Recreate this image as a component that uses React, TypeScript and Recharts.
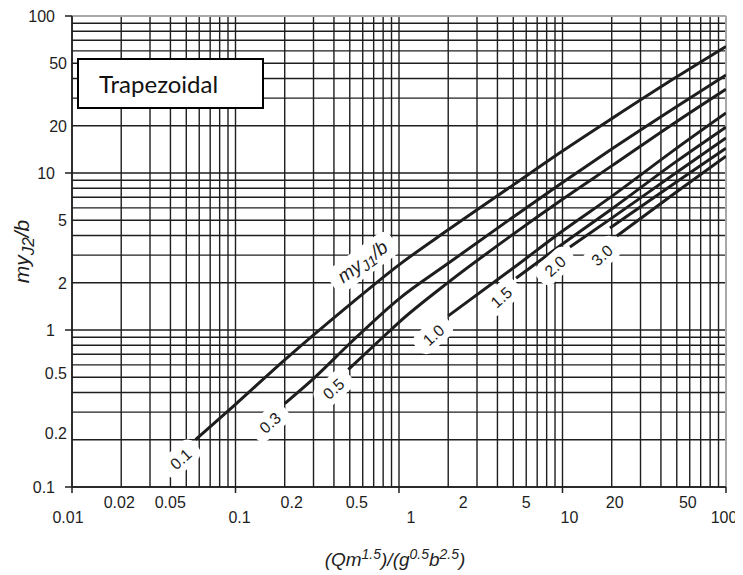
import React from "react";
import {
  LineChart,
  Line,
  XAxis,
  YAxis,
  CartesianGrid,
  ReferenceDot,
  ReferenceLine,
} from "recharts";

// log grid: every 1..9 step in each decade
const steps = [1, 2, 3, 4, 5, 6, 7, 8, 9];
const decadesX = [0.01, 0.1, 1, 10];
const decadesY = [0.1, 1, 10];
const gridX = [...decadesX.flatMap((d) => steps.map((k) => +(k * d).toPrecision(3))), 100];
const gridY = [...decadesY.flatMap((d) => steps.map((k) => +(k * d).toPrecision(3))), 100];

const xLabels = [0.01, 0.02, 0.05, 0.1, 0.2, 0.5, 1, 2, 5, 10, 20, 50, 100];
const xMajors = [0.01, 0.1, 1, 10, 100];
const yLabels = [0.1, 0.2, 0.5, 1, 2, 5, 10, 20, 50, 100];
const yMajors = [0.1, 1, 10, 100];

// curves, one per my_J1/b value (x = Qm^1.5/(g^0.5 b^2.5), y = my_J2/b)
const x01 = [0.057, 0.1, 0.2, 0.5, 1, 2, 5, 10, 20, 50, 100];
const y01 = [0.2, 0.336, 0.645, 1.45, 2.6, 4.35, 8.4, 13.8, 22.2, 41, 64];
const x03 = [0.2, 0.3, 0.5, 1, 2, 5, 10, 20, 50, 100];
const y03 = [0.34, 0.49, 0.82, 1.58, 2.66, 5.25, 8.7, 14.2, 26.5, 42.1];
const x05 = [0.49, 0.77, 1, 2, 5, 10, 20, 50, 100];
const y05 = [0.56, 0.87, 1.12, 2.01, 4.08, 6.8, 11.1, 21.3, 34.2];
const x10 = [2, 5, 10, 20, 50, 100];
const y10 = [1.23, 2.48, 4.27, 7.1, 14.4, 24.1];
const x15 = [5.2, 10, 20, 50, 100];
const y15 = [2.14, 3.53, 5.9, 11.9, 19.6];
const x20 = [11.1, 20, 50, 100];
const y20 = [3.38, 5.16, 10.1, 16.7];
const x25 = [19.5, 50, 100];
const y25 = [4.47, 8.8, 14.4];
const x30 = [21.5, 50, 100];
const y30 = [3.97, 7.6, 12.8];

const curves = [
  { tag: "0.1", xs: x01, ys: y01 },
  { tag: "0.3", xs: x03, ys: y03 },
  { tag: "0.5", xs: x05, ys: y05 },
  { tag: "1.0", xs: x10, ys: y10 },
  { tag: "1.5", xs: x15, ys: y15 },
  { tag: "2.0", xs: x20, ys: y20 },
  { tag: "", xs: x25, ys: y25 },
  { tag: "3.0", xs: x30, ys: y30 },
].map((c) => ({ ...c, data: c.xs.map((x, i) => ({ x, y: c.ys[i] })) }));

// small nudges so tick text sits where the scanned original has it
const xShift: Record<string, number> = {
  "0.01": -4, "0.02": -2, "0.05": -16, "0.1": 4, "0.2": 7, "0.5": 7,
  "1": 12, "2": 15, "5": 13, "10": 7, "20": 3, "50": 11, "100": -2,
};
const yShift: Record<string, number> = { "0.2": -7, "0.5": -4 };

const FONT = "'Liberation Sans', Arial, sans-serif";
const INK = "#1e1e1e";

const XTick = (props: any) => {
  const { x, y, payload } = props;
  const v = payload.value;
  const major = xMajors.includes(v);
  const show = xLabels.includes(v);
  return (
    <g>
      {major && <line x1={x} x2={x} y1={y} y2={y + 6} stroke={INK} strokeWidth={1.5} />}
      {show && (
        <text
          x={x + (xShift[String(v)] || 0)}
          y={major ? y + 36 : y + 21}
          textAnchor="middle"
          fontSize={16}
          fontFamily={FONT}
          fill={INK}
        >
          {String(v)}
        </text>
      )}
    </g>
  );
};

const YTick = (props: any) => {
  const { x, y, payload } = props;
  const v = payload.value;
  const major = yMajors.includes(v);
  const show = yLabels.includes(v);
  return (
    <g>
      {major && <line x1={x - 7} x2={x} y1={y} y2={y} stroke={INK} strokeWidth={1.5} />}
      {show && (
        <text
          x={major ? x - 17 : x - 5}
          y={y + 6 + (yShift[String(v)] || 0)}
          textAnchor="end"
          fontSize={16}
          fontFamily={FONT}
          fill={INK}
        >
          {String(v)}
        </text>
      )}
    </g>
  );
};

const XTitle = (props: any) => {
  const vb = props.viewBox || {};
  return (
    <text
      x={vb.x + vb.width / 2 - 4}
      y={vb.y + 79}
      textAnchor="middle"
      fontSize={19}
      fontFamily={FONT}
      fontStyle="italic"
      fill={INK}
    >
      (Qm<tspan dy={-7} fontSize={14}>1.5</tspan>
      <tspan dy={7}>)/(g</tspan>
      <tspan dy={-7} fontSize={14}>0.5</tspan>
      <tspan dy={7}>b</tspan>
      <tspan dy={-7} fontSize={14}>2.5</tspan>
      <tspan dy={7}>)</tspan>
    </text>
  );
};

const YTitle = (props: any) => {
  const vb = props.viewBox || {};
  const cx = 21;
  const cy = vb.y + vb.height / 2;
  return (
    <text
      transform={`translate(${cx},${cy}) rotate(-90)`}
      textAnchor="middle"
      fontSize={21}
      fontFamily={FONT}
      fontStyle="italic"
      fill={INK}
    >
      my<tspan dy={5} fontSize={17}>J2</tspan>
      <tspan dy={-5}>/b</tspan>
    </text>
  );
};

const CurveTag = (p: any) => {
  const { cx, cy, text } = p;
  if (!text) return <g />;
  return (
    <g transform={`translate(${cx - 15},${cy + 19}) rotate(-42)`}>
      <rect x={-21} y={-12} width={42} height={24} rx={9} fill="#fff" />
      <text textAnchor="middle" dy={6} fontSize={16} fontFamily={FONT} fill={INK}>
        {text}
      </text>
    </g>
  );
};

const NameTag = (p: any) => {
  const { cx, cy } = p;
  return (
    <g transform={`translate(${cx},${cy - 33}) rotate(-36)`}>
      <rect x={-38} y={-14} width={76} height={28} rx={9} fill="#fff" />
      <text textAnchor="middle" dy={6} fontSize={19} fontFamily={FONT} fontStyle="italic" fill={INK}>
        my<tspan dy={4} fontSize={15}>J1</tspan>
        <tspan dy={-4}>/b</tspan>
      </text>
    </g>
  );
};

export default function App() {
  return (
    <div style={{ position: "relative", width: 735, height: 567 }}>
      <LineChart width={735} height={567} margin={{ top: 8, right: 17, bottom: 8, left: 0 }}>
        <CartesianGrid stroke={INK} strokeWidth={1.4} horizontalValues={gridY} verticalValues={gridX} />
        <XAxis
          dataKey="x"
          type="number"
          scale="log"
          domain={[0.01, 100]}
          allowDataOverflow
          ticks={gridX}
          interval={0}
          tick={<XTick />}
          tickLine={false}
          tickSize={0}
          tickMargin={0}
          height={80}
          axisLine={{ stroke: INK, strokeWidth: 1.5 }}
          label={{ content: <XTitle /> }}
        />
        <YAxis
          dataKey="y"
          type="number"
          scale="log"
          domain={[0.1, 100]}
          allowDataOverflow
          ticks={gridY}
          interval={0}
          tick={<YTick />}
          tickLine={false}
          tickSize={0}
          tickMargin={0}
          width={64}
          axisLine={{ stroke: INK, strokeWidth: 1.5 }}
          label={{ content: <YTitle /> }}
        />
        <ReferenceLine y={100} stroke="#a8a8a8" strokeWidth={2} />
        <ReferenceLine x={100} stroke="#a8a8a8" strokeWidth={2} />
        {curves.map((c) => (
          <ReferenceDot
            key={"tag" + c.tag + c.xs[0]}
            x={c.xs[0]}
            y={c.ys[0]}
            r={1}
            shape={(p: any) => <CurveTag cx={p.cx} cy={p.cy} text={c.tag} />}
          />
        ))}
        <ReferenceDot x={0.6} y={1.67} r={1} shape={(p: any) => <NameTag cx={p.cx} cy={p.cy} />} />
        {curves.map((c) => (
          <Line
            key={"c" + c.xs[0]}
            data={c.data}
            dataKey="y"
            type="monotone"
            stroke={INK}
            strokeWidth={3}
            dot={false}
            activeDot={false}
            isAnimationActive={false}
          />
        ))}
      </LineChart>
      <div
        style={{
          position: "absolute",
          left: 69,
          top: 50,
          width: 183,
          height: 47,
          border: "2px solid #000",
          background: "#fff",
          boxSizing: "content-box",
          fontFamily: "Lato, 'Open Sans', sans-serif",
          fontSize: 24,
          lineHeight: "47px",
        }}
      >
        <span style={{ marginLeft: 20, color: "#111" }}>Trapezoidal</span>
      </div>
    </div>
  );
}
